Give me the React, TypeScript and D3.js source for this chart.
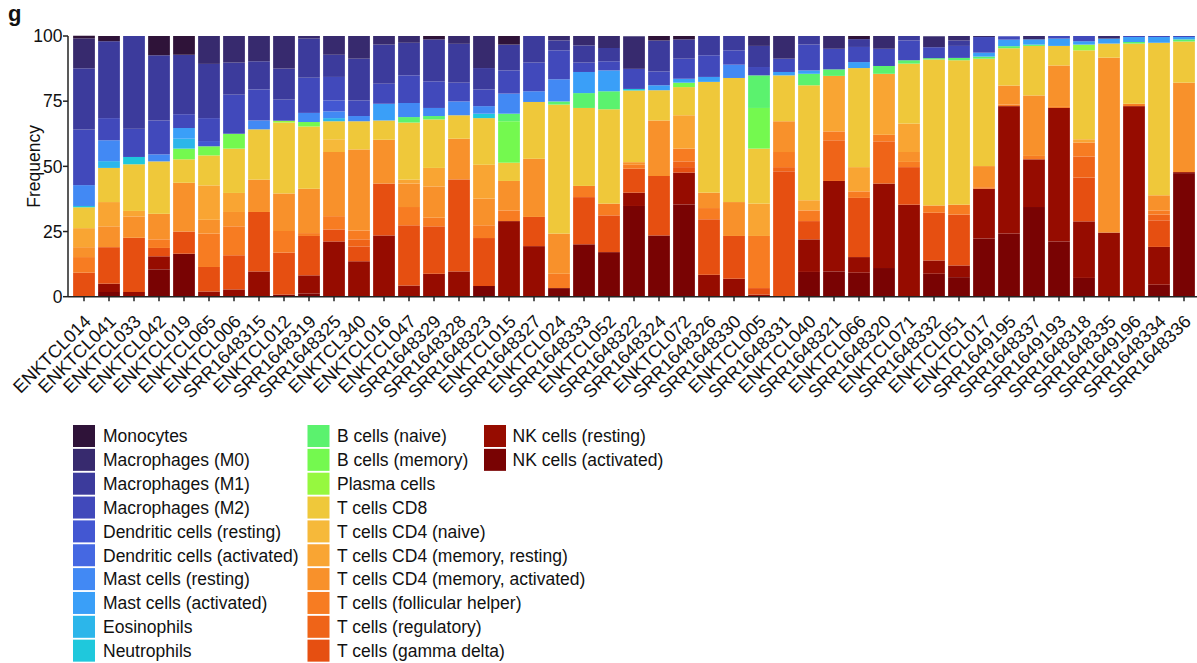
import React from 'react';
import * as d3 from 'd3';

const samples = [
  'ENKTCL014', 'ENKTCL041', 'ENKTCL033', 'ENKTCL042', 'ENKTCL019', 'ENKTCL065', 'ENKTCL006', 'SRR1648315', 'ENKTCL012', 'SRR1648319',
  'SRR1648325', 'ENKTCL340', 'ENKTCL016', 'ENKTCL047', 'SRR1648329', 'SRR1648328', 'SRR1648323', 'ENKTCL015', 'SRR1648327', 'ENKTCL024',
  'SRR1648333', 'ENKTCL052', 'SRR1648322', 'SRR1648324', 'ENKTCL072', 'SRR1648326', 'SRR1648330', 'ENKTCL005', 'SRR1648331', 'ENKTCL040',
  'SRR1648321', 'ENKTCL066', 'SRR1648320', 'ENKTCL071', 'SRR1648332', 'ENKTCL051', 'ENKTCL017', 'SRR1649195', 'SRR1648337', 'SRR1649193',
  'SRR1648318', 'SRR1648335', 'SRR1649196', 'SRR1648334', 'SRR1648336',
];

const cellTypes = [
  'Monocytes', 'Macrophages (M0)', 'Macrophages (M1)', 'Macrophages (M2)', 'Dendritic cells (resting)',
  'Dendritic cells (activated)', 'Mast cells (resting)', 'Mast cells (activated)', 'Eosinophils', 'Neutrophils',
  'B cells (naive)', 'B cells (memory)', 'Plasma cells', 'T cells CD8', 'T cells CD4 (naive)',
  'T cells CD4 (memory, resting)', 'T cells CD4 (memory, activated)', 'T cells (follicular helper)', 'T cells (regulatory)', 'T cells (gamma delta)',
  'NK cells (resting)', 'NK cells (activated)',
];

const cellColors = [
  '#2f1339', '#372a6e', '#3c3b9c', '#4149bb', '#4357d2',
  '#4568e2', '#4289f4', '#3a9ff8', '#2cb6ea', '#1fc8dc',
  '#5bf26e', '#74f94f', '#96f83f', '#efc83a', '#f6b93a',
  '#f9a533', '#f8912b', '#f77c22', '#ef6418', '#e64f11',
  '#960c00', '#790303',
];

const yTicks = [0, 25, 50, 75, 100];

const monocytes = [1, 2, 0, 7.4, 7.2, 0, 0, 0, 0, 0, 0, 0, 0, 0, 1.3, 0, 0, 3.3, 0, 0, 0, 0, 0, 1.7, 1.3, 0, 0, 0, 0, 0, 0, 1.2, 0, 0, 0, 0, 0, 0, 0, 0, 0, 0, 0, 0, 0];
const macrophagesM0 = [11.5, 0, 0, 0, 0, 10.7, 10.2, 9.7, 12.5, 1, 7.2, 8.7, 3.3, 2.6, 0, 3, 12.3, 0, 0, 1.7, 3.6, 4.6, 12.5, 0, 0, 0, 0, 3.8, 8.7, 0, 4.9, 0, 4.9, 0, 4.2, 1.7, 0.4, 0, 1.3, 0, 0, 1, 0, 0, 0];
const macrophagesM1 = [23.5, 29.5, 35.6, 25, 22.8, 20.8, 12.3, 10.8, 11.9, 15, 8.5, 16, 15, 12.5, 16.1, 14.9, 8.2, 9.9, 10.2, 3.8, 6.6, 5.1, 0, 11.9, 7.4, 7.4, 5.5, 8.1, 0, 3.3, 0, 3, 0, 1.7, 0, 2.1, 0, 0, 0, 0, 0, 0, 0, 0, 0];
const macrophagesM2 = [21.3, 8.5, 10.8, 13, 5.3, 8.8, 15, 11.9, 8.1, 13.5, 9, 6, 7.7, 10.6, 10.2, 7.2, 6.4, 8.9, 11, 11.1, 3.6, 3.5, 7.7, 5.3, 7.7, 8.3, 5.5, 3.2, 5.1, 9.9, 7.9, 5.8, 6.6, 7.6, 4.2, 4.6, 6, 1.3, 0, 1, 2, 0, 0.4, 0.4, 0.4];
const dendriticResting = [0, 0, 0, 0, 0, 2, 0, 0, 0, 0, 4.2, 0, 0, 0, 0, 0, 0, 0, 0, 0, 0, 0, 0, 0, 0, 0, 0, 0, 0, 0, 0, 0, 0, 0, 0, 0, 0, 0, 0, 0, 0, 0, 0, 0, 0];
const dendriticActivated = [0, 0, 0, 0, 0, 0, 0, 0, 0, 0, 0, 0, 0, 0, 0, 0, 0, 0, 0, 0, 0, 0, 0, 0, 0, 0, 0, 0, 0, 0, 0, 0, 0, 0, 0, 0, 0, 0, 0, 0, 0, 0, 0, 0, 0];
const mastResting = [8, 8, 0, 2.7, 0, 0, 0, 3.4, 0, 3.5, 2.6, 2, 0, 5.4, 3.1, 5.3, 2.9, 7.7, 4.1, 8.5, 0, 0, 0, 0, 0, 0, 5.1, 0, 0, 0, 0, 0, 0, 0, 0, 0, 0, 0, 0, 0, 0, 0, 0, 0, 0];
const mastActivated = [0, 0, 0, 0, 4.1, 0, 0, 0, 0, 0, 0, 0, 6.4, 0, 0, 0, 0, 0, 0, 0, 8.1, 8, 0, 1.9, 1.5, 1.9, 0, 0, 1.3, 1.3, 0, 2.3, 0, 0, 0, 0, 1.5, 2.5, 2, 2.8, 1.3, 1.9, 1.9, 2.2, 0.9];
const eosinophils = [0, 2.6, 0, 0, 3.8, 0, 0, 0, 0, 0, 1.2, 0, 0, 0, 0, 0, 0, 0, 0, 0, 0, 0, 0, 0, 0, 0, 0, 0, 0, 0, 0, 0, 0, 0, 0, 0, 0, 0, 0, 0, 0, 0, 0, 0, 0];
const neutrophils = [0.5, 0, 2.8, 0, 0, 0, 0, 0, 0, 0, 0, 0, 0, 0, 0, 0, 1.7, 0, 0, 0, 0, 0, 0.6, 0, 0, 0, 0, 0, 0, 0, 0, 0, 0, 0, 0, 0, 0, 0, 0, 0, 0, 0, 0, 0, 0];
const bNaive = [0, 0, 0, 0, 0, 0, 0, 0, 0, 0, 0, 0, 0, 2.1, 1.3, 0, 0, 2.9, 0, 1.2, 5.7, 6.9, 0, 0, 0, 0, 0, 12.5, 0, 4.4, 2.5, 0, 3, 1.3, 0.5, 0.9, 0.8, 0.8, 0.5, 0, 0, 0, 0.6, 0, 0.8];
const bMemory = [0, 0, 0, 0, 4.1, 3.5, 5.7, 0, 0, 1.7, 0, 0, 0, 0, 0, 0, 0, 15.9, 0, 0, 0, 0, 0, 0, 1.7, 0, 0, 15.6, 0, 0, 0, 0, 0, 0, 0, 0, 0, 0, 0, 0, 0, 0, 0, 0, 0];
const plasma = [0, 0, 0, 0, 0, 0, 0, 0, 0.7, 0, 0, 0, 0, 0, 0, 0, 0, 0, 0, 0, 0, 0, 0, 0, 0, 0, 0, 0, 0, 0, 0, 0, 0, 0, 0, 0, 0, 0, 0, 0, 2.2, 0, 0, 0, 0];
const tCD8 = [8, 13.1, 17.9, 20.1, 9, 11.5, 17, 19.3, 27.2, 23.9, 6.9, 10.8, 7.4, 21.9, 18.6, 9, 17.9, 7, 21.8, 49.5, 29.9, 36.2, 27.5, 11.6, 10.8, 42.5, 47.6, 21.1, 17.6, 44.1, 0, 38, 0, 23, 56, 55.4, 41.2, 14.3, 19, 7.5, 34.1, 5.4, 23.1, 58.5, 15.8];
const tCD4Naive = [0, 0, 0, 0, 0, 0, 0, 0, 0, 0, 4.9, 0, 0, 0, 0, 0, 0, 0, 0, 0, 0, 0, 0, 0, 0, 0, 0, 0, 0, 0, 0, 0, 0, 0, 0, 0, 0, 0, 0, 0, 0, 0, 0, 0, 0];
const tCD4MemResting = [7.3, 9.3, 2.1, 0, 0, 13.2, 7.3, 0, 0, 0, 0, 0, 0, 1.5, 7.1, 0, 13, 0, 0, 0, 0, 0, 0, 0, 12.8, 0, 0, 12.4, 0, 3.9, 21.3, 9.3, 23.4, 10.9, 0, 0, 0, 0, 0, 0, 1.3, 0, 0, 0, 0];
const tCD4MemActivated = [3.8, 8, 8.2, 9.8, 18.7, 5.3, 5.5, 12.4, 14.4, 17, 24.6, 31.1, 16.8, 9, 12, 15.6, 10.2, 11.3, 22.3, 15.4, 0, 0, 1, 21.3, 0, 5.9, 13, 0, 11.8, 0, 0, 0, 0, 3.8, 0, 0, 8.1, 7.3, 23.2, 15.9, 0, 67.1, 0, 5.8, 34.3];
const tFollicular = [6, 0, 0, 3.3, 0, 12.8, 11.1, 0, 8.3, 1.1, 5.1, 3.4, 0, 7, 3.3, 0, 4.9, 4.1, 0, 5.5, 4.3, 4.5, 1.5, 0, 4.9, 4.3, 0, 20, 5.8, 4.1, 3.4, 2.5, 2.5, 2, 2.8, 3.8, 0.6, 0.6, 1.3, 0.4, 5.3, 0, 0.9, 1.6, 0];
const tRegulatory = [0, 0, 0, 0, 0, 0, 0, 0, 0, 0, 0, 2.7, 0, 0, 0, 0, 0, 0, 0, 0, 0, 0, 0, 0, 2.2, 0, 0, 0, 1.6, 0, 15.6, 0, 16.2, 0, 0, 0, 0, 0, 0, 0, 8.1, 0, 0, 2.2, 0];
const tGammaDelta = [9.2, 14, 20.8, 3.2, 8.5, 9.4, 13.1, 22.8, 16.1, 15.1, 4.6, 5.7, 19.9, 23.1, 18.2, 35.3, 18.4, 0, 11.2, 0, 18.1, 14.1, 9.2, 22.8, 2.1, 21.3, 16.4, 2.5, 48.1, 7, 0, 22.7, 0, 14.4, 18.3, 19.5, 0, 0, 0, 0, 16.8, 0, 0, 10.2, 0];
const nkResting = [0, 3.2, 1.8, 5, 0, 2, 2.8, 9.7, 0, 7, 21.2, 13.6, 23.5, 4.3, 8.8, 9.7, 0, 29, 19.4, 0, 0, 0, 5.1, 0, 12.2, 8.4, 6.9, 0.8, 0, 12.5, 34.7, 6, 32.4, 35.3, 5.1, 4.5, 19.1, 48.9, 18.3, 51.2, 21.7, 24.6, 73.1, 14.5, 0.4];
const nkActivated = [0, 1.8, 0, 10.5, 16.5, 0, 0, 0, 0.8, 1.2, 0, 0, 0, 0, 0, 0, 4.1, 0, 0, 3.3, 20.1, 17.1, 34.8, 23.5, 35.4, 0, 0, 0, 0, 9.5, 9.7, 9.2, 11, 0, 8.8, 7.5, 22.3, 24.2, 34.4, 21.2, 7.2, 0, 0, 4.6, 47.4];

const seriesValues = [
  monocytes, macrophagesM0, macrophagesM1, macrophagesM2, dendriticResting,
  dendriticActivated, mastResting, mastActivated, eosinophils, neutrophils,
  bNaive, bMemory, plasma, tCD8, tCD4Naive,
  tCD4MemResting, tCD4MemActivated, tFollicular, tRegulatory, tGammaDelta,
  nkResting, nkActivated,
];

const W = 1197;
const H = 663;
const FONT = 'Liberation Sans, Arial, Helvetica, sans-serif';

export default function App() {
  const rows = samples.map((s, i) => {
    const r: Record<string, any> = { sample: s };
    cellTypes.forEach((c, k) => { r[c] = seriesValues[k][i]; });
    return r;
  });
  const stackKeys = [...cellTypes].reverse();
  const stacked = d3.stack<any>().keys(stackKeys)(rows);
  const colorOf = d3.scaleOrdinal<string, string>().domain(cellTypes).range(cellColors);

  const x = d3.scaleBand().domain(samples).range([71.5, 1196.5]).paddingInner(0.13).paddingOuter(0.065);
  const y = d3.scaleLinear().domain([0, 100]).range([296.7, 36]);
  const axisX = 68;
  const bw = x.bandwidth();

  const legendCols = [
    { items: cellTypes.slice(0, 10), sx: 73, tx: 103 },
    { items: cellTypes.slice(10, 20), sx: 307.5, tx: 337 },
    { items: cellTypes.slice(20), sx: 484, tx: 512.5 },
  ];
  const rowY0 = 425;
  const rowStep = 23.85;
  const sw = 22;

  return (
    <svg width={W} height={H} style={{ position: 'absolute', left: 0, top: 0, background: '#fff' }} fontFamily={FONT}>
      <text x={8} y={21} fontSize={22} fontWeight="bold" fill="#111">g</text>
      {stacked.map((layer) => (
        <g key={layer.key} fill={colorOf(layer.key)}>
          {layer.map((d, i) => {
            const h = y(d[0]) - y(d[1]);
            if (h <= 0.01) return null;
            return <rect key={i} x={x(samples[i])} y={y(d[1])} width={bw} height={h} />;
          })}
        </g>
      ))}
      {/* y axis */}
      <line x1={axisX} x2={axisX} y1={y(100)} y2={y(0)} stroke="#222" strokeWidth={1.5} />
      {yTicks.map((t) => (
        <g key={t}>
          <line x1={axisX - 5} x2={axisX} y1={y(t)} y2={y(t)} stroke="#222" strokeWidth={1.5} />
          <text x={axisX - 5.5} y={y(t)} dy="0.36em" textAnchor="end" fontSize={17.5} fill="#111">{t}</text>
        </g>
      ))}
      <text transform={`translate(40,${(y(0) + y(100)) / 2}) rotate(-90)`} textAnchor="middle" fontSize={17.5} fill="#111">Frequency</text>
      {/* x axis */}
      <line x1={axisX} x2={1197} y1={y(0)} y2={y(0)} stroke="#222" strokeWidth={1.5} />
      {samples.map((s) => {
        const cx = (x(s) as number) + bw / 2;
        return (
          <g key={s}>
            <line x1={cx} x2={cx} y1={y(0)} y2={y(0) + 4.5} stroke="#222" strokeWidth={1.5} />
            <text transform={`translate(${cx + 8},${y(0) + 26}) rotate(-45)`} textAnchor="end" fontSize={18} fill="#111">{s}</text>
          </g>
        );
      })}
      {/* legend */}
      {legendCols.map((col, ci) => (
        <g key={ci}>
          {col.items.map((c, ri) => {
            const yy = rowY0 + ri * rowStep;
            return (
              <g key={c}>
                <rect x={col.sx} y={yy} width={sw} height={sw} fill={colorOf(c)} />
                <text x={col.tx} y={yy + sw / 2} dy="0.36em" fontSize={17.5} fill="#111">{c}</text>
              </g>
            );
          })}
        </g>
      ))}
    </svg>
  );
}
